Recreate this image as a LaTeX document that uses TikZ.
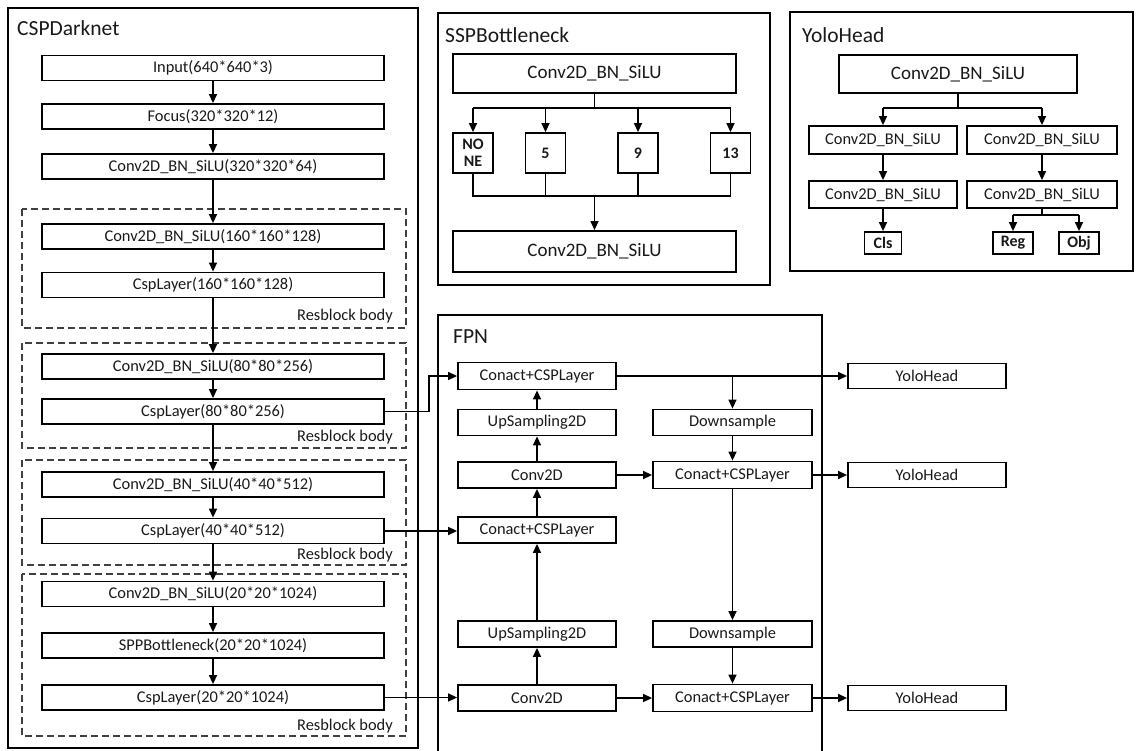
\documentclass[tikz,border=0pt]{standalone}
\usepackage{fontspec}
\setmainfont{Carlito}
\usetikzlibrary{arrows.meta}
\tikzset{
  box/.style={draw, line width=1.8pt, inner sep=0pt, minimum height=25pt, text=black!90, font=\fontsize{16.4}{19}\selectfont},
  cspbox/.style={box, minimum width=342pt},
  fpnbox/.style={box, minimum width=158pt, minimum height=26pt},
  bigbox/.style={box, font=\fontsize{19}{22}\selectfont},
  numbox/.style={box, align=center, font=\fontsize{16}{17}\selectfont\bfseries},
  panel/.style={draw, line width=1.9pt},
  resblock/.style={draw, line width=1.3pt, black!75, dash pattern=on 7pt off 4pt},
  rblabel/.style={anchor=east, inner sep=0pt, text=black!90, font=\fontsize{16.4}{19}\selectfont},
  grouptitle/.style={anchor=west, inner sep=0pt, text=black!90, font=\fontsize{21.5}{24}\selectfont},
  arr/.style={-{Triangle[length=9pt,width=8pt]}, line width=1.4pt},
  ln/.style={line width=1.4pt}
}
\begin{document}
\begin{tikzpicture}[x=1pt, y=-1pt]
	  \useasboundingbox (0,0) rectangle (1141,750);
	  
	  \draw[panel, line width=2.8pt] (8,8) rectangle (418,748);
	  \node[grouptitle] (cspd) at (17,28) {CSPDarknet};
	  \draw[resblock] (22,209) rectangle (406,328);
	  \draw[resblock] (22,343) rectangle (406,448);
	  \draw[resblock] (22,460) rectangle (406,565);
	  \draw[resblock] (22,574) rectangle (406,736);
	  \node[rblabel] (rb1) at (393,316) {Resblock body};
	  \node[rblabel] (rb2) at (393,437) {Resblock body};
	  \node[rblabel] (rb3) at (393,555) {Resblock body};
	  \node[rblabel] (rb4) at (393,726) {Resblock body};
	  
	  \node[cspbox] (in) at (213,68) {Input(640*640*3)};
	  \node[cspbox] (focus) at (213,116.5) {Focus(320*320*12)};
	  \node[cspbox] (c0) at (213,166.5) {Conv2D\_BN\_SiLU(320*320*64)};
	  \node[cspbox] (c1) at (213,236.5) {Conv2D\_BN\_SiLU(160*160*128)};
	  \node[cspbox] (l1) at (213,285) {CspLayer(160*160*128)};
	  \node[cspbox] (c2) at (213,366.5) {Conv2D\_BN\_SiLU(80*80*256)};
	  \node[cspbox] (l2) at (213,411.5) {CspLayer(80*80*256)};
	  \node[cspbox] (c3) at (213,484.5) {Conv2D\_BN\_SiLU(40*40*512)};
	  \node[cspbox] (l3) at (213,531) {CspLayer(40*40*512)};
	  \node[cspbox] (c4) at (213,594) {Conv2D\_BN\_SiLU(20*20*1024)};
	  \node[cspbox] (spp) at (213,645.5) {SPPBottleneck(20*20*1024)};
	  \node[cspbox] (l4) at (213,697.5) {CspLayer(20*20*1024)};
	  
	  \draw[arr] (in) -- (focus);
	  \draw[arr] (focus) -- (c0);
	  \draw[arr] (c0) -- (c1);
	  \draw[arr] (c1) -- (l1);
	  \draw[arr] (l1) -- (c2);
	  \draw[arr] (c2) -- (l2);
	  \draw[arr] (l2) -- (c3);
	  \draw[arr] (c3) -- (l3);
	  \draw[arr] (l3) -- (c4);
	  \draw[arr] (c4) -- (spp);
	  \draw[arr] (spp) -- (l4);
	  
	  \draw[panel] (438,13) rectangle (770,285);
	  \node[grouptitle] (sspt) at (445,35) {SSPBottleneck};
	  \node[bigbox, minimum width=283pt, minimum height=39pt] (st) at (594.5,73.5) {Conv2D\_BN\_SiLU};
	  \node[numbox, minimum width=40pt, minimum height=40pt] (p0) at (473,153) {NO\\NE};
	  \node[numbox, minimum width=40pt, minimum height=40pt] (p5) at (545.5,153) {5};
	  \node[numbox, minimum width=40pt, minimum height=40pt] (p9) at (638,153) {9};
	  \node[numbox, minimum width=40pt, minimum height=40pt] (p13) at (730.5,153) {13};
	  \node[bigbox, minimum width=283pt, minimum height=41pt] (sb) at (594.5,251.5) {Conv2D\_BN\_SiLU};
	  \coordinate (sfork) at (594.5,108);
	  \coordinate (sjoin) at (594.5,196);
	  
	  \draw[ln] (st) -- (sfork);
	  \draw[ln] (sfork -| p0) -- (sfork -| p13);
	  \draw[arr] (sfork -| p0) -- (p0);
	  \draw[arr] (sfork -| p5) -- (p5);
	  \draw[arr] (sfork -| p9) -- (p9);
	  \draw[arr] (sfork -| p13) -- (p13);
	  \draw[ln] (p0) -- (sjoin -| p0) -- (sjoin -| p13) -- (p13);
	  \draw[ln] (p5) -- (sjoin -| p5);
	  \draw[ln] (p9) -- (sjoin -| p9);
	  \draw[arr] (sjoin) -- (sb);
	  
	  \draw[panel] (790,12) rectangle (1133,271);
	  \node[grouptitle] (yht) at (802,35) {YoloHead};
	  \node[bigbox, minimum width=238pt, minimum height=38pt] (yt) at (958,74) {Conv2D\_BN\_SiLU};
	  \node[box, minimum width=148pt, minimum height=28pt] (yl1) at (883,140) {Conv2D\_BN\_SiLU};
	  \node[box, minimum width=150pt, minimum height=28pt] (yr1) at (1042,140) {Conv2D\_BN\_SiLU};
	  \node[box, minimum width=148pt, minimum height=27pt] (yl2) at (883,194.5) {Conv2D\_BN\_SiLU};
	  \node[box, minimum width=150pt, minimum height=27pt] (yr2) at (1042,194.5) {Conv2D\_BN\_SiLU};
	  \node[numbox, minimum width=37pt, minimum height=22pt] (cls) at (883,243) {Cls};
	  \node[numbox, minimum width=40pt, minimum height=22pt] (reg) at (1013,243) {Reg};
	  \node[numbox, minimum width=40pt, minimum height=22pt] (obj) at (1079,243) {Obj};
	  \coordinate (yfork) at (958,108);
	  \coordinate (rfork) at (1042,215);
	  
	  \draw[ln] (yt) -- (yfork);
	  \draw[ln] (yfork -| yl1) -- (yfork -| yr1);
	  \draw[arr] (yfork -| yl1) -- (yl1);
	  \draw[arr] (yfork -| yr1) -- (yr1);
	  \draw[arr] (yl1) -- (yl2);
	  \draw[arr] (yr1) -- (yr2);
	  \draw[arr] (yl2) -- (cls);
	  \draw[ln] (yr2) -- (rfork);
	  \draw[ln] (rfork -| reg) -- (rfork -| obj);
	  \draw[arr] (rfork -| reg) -- (reg);
	  \draw[arr] (rfork -| obj) -- (obj);
	  
	  \draw[panel] (438,315) rectangle (822,760);
	  \node[grouptitle] (fpnt) at (453,337) {FPN};
	  \node[fpnbox, minimum height=27pt] (f1) at (537,376) {Conact+CSPLayer};
	  \node[fpnbox] (u1) at (537,422.5) {UpSampling2D};
	  \node[fpnbox] (v1) at (537,475) {Conv2D};
	  \node[fpnbox] (f2) at (537,530) {Conact+CSPLayer};
	  \node[fpnbox] (u2) at (537,634) {UpSampling2D};
	  \node[fpnbox] (v2) at (537,698) {Conv2D};
	  \node[fpnbox, minimum width=159pt] (d1) at (732.5,422.5) {Downsample};
	  \node[fpnbox, minimum width=159pt, minimum height=27pt] (r1) at (732.5,475) {Conact+CSPLayer};
	  \node[fpnbox, minimum width=159pt] (d2) at (732.5,634) {Downsample};
	  \node[fpnbox, minimum width=159pt, minimum height=27pt] (r2) at (732.5,698) {Conact+CSPLayer};
	  
	  \node[box, minimum width=158pt] (h1) at (927,376) {YoloHead};
	  \node[box, minimum width=158pt] (h2) at (927,475) {YoloHead};
	  \node[box, minimum width=158pt] (h3) at (927,698) {YoloHead};
	  
	  \draw[arr] (l2.east) -- ++(44,0) |- (f1.west);
	  \draw[arr] (l3) -- (l3 -| f2.west);
	  \draw[arr] (l4) -- (l4 -| v2.west);
	  
	  \draw[arr] (v2) -- (u2);
	  \draw[arr] (u2) -- (f2);
	  \draw[arr] (f2) -- (v1);
	  \draw[arr] (v1) -- (u1);
	  \draw[arr] (u1) -- (f1);
	  \draw[arr] (f1) -- (h1);
	  \draw[arr] (f1.east -| d1) -- (d1);
	  \draw[arr] (d1) -- (r1);
	  \draw[arr] (v1) -- (r1);
	  \draw[arr] (r1) -- (h2);
	  \draw[arr] (r1) -- (d2);
	  \draw[arr] (d2) -- (r2);
	  \draw[arr] (v2) -- (r2);
	  \draw[arr] (r2) -- (h3);
	\end{tikzpicture}
\end{document}
